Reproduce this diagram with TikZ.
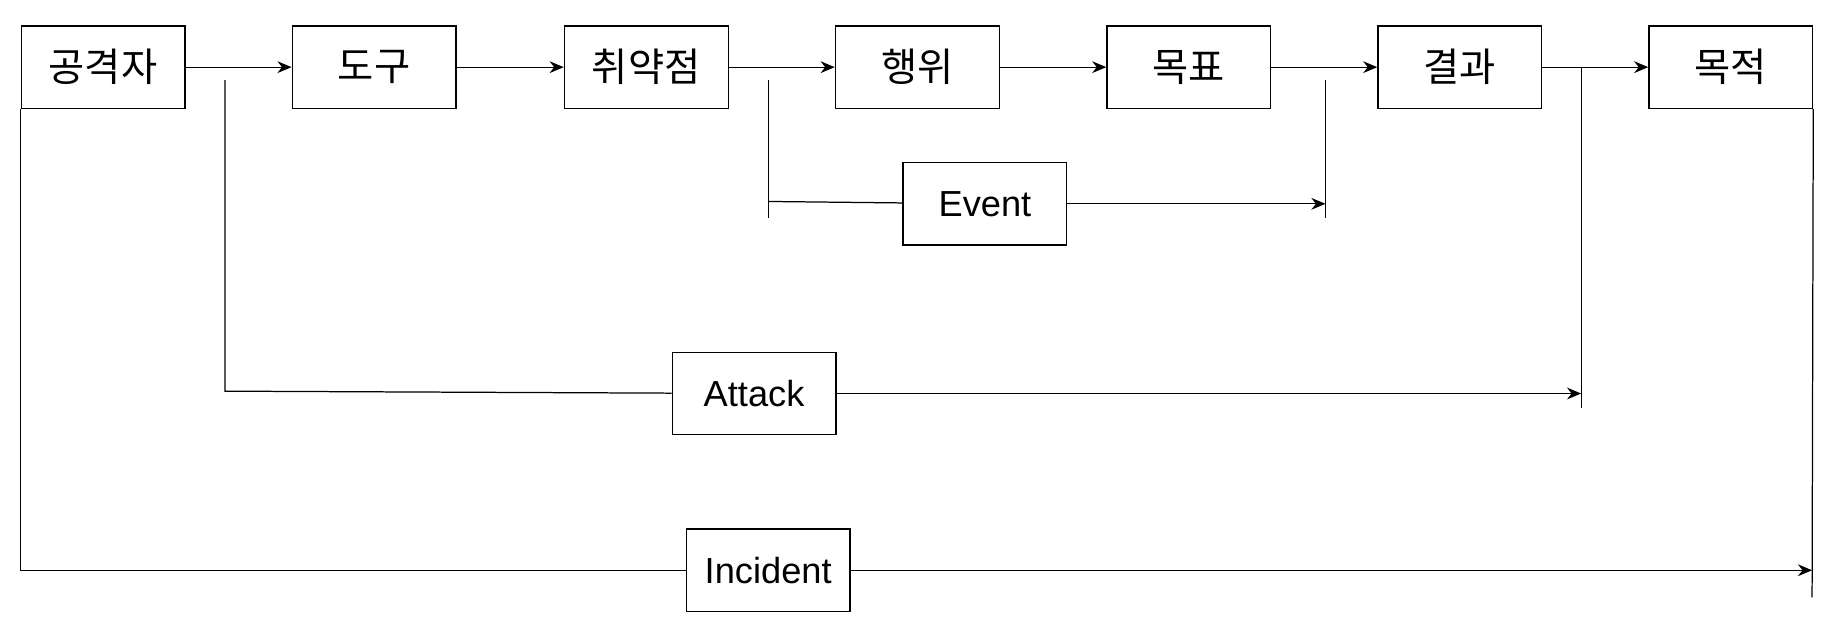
\documentclass[tikz,border=0pt]{standalone}
\usepackage{fontspec}
\setmainfont{Liberation Sans}
\newfontfamily\kr{Noto Sans CJK KR}
\usetikzlibrary{arrows.meta}

\begin{document}
\begin{tikzpicture}[x=0.2mm,y=-0.2mm,line width=0.6pt,
  box/.style={shape=rectangle,minimum width=2.78cm,minimum height=1.4cm,draw,font=\fontsize{17.5}{21}\selectfont},
  krbox/.style={box,font=\fontsize{19}{23}\selectfont\kr},
  >={Stealth[length=2.4mm,width=2mm]}]
\useasboundingbox (0,0) rectangle (1560,532);
% top row
\path (87.5,57) node (attacker) [krbox] {공격자};
\path (317.5,57) node (tool) [krbox] {도구};
\path (548.5,57) node (vuln) [krbox] {취약점};
\path (778.5,57) node (action) [krbox] {행위};
\path (1009,57) node (target) [krbox] {목표};
\path (1239,57) node (result) [krbox] {결과};
\path (1469,57) node (objective) [krbox] {목적};
% spans
\path (836,173) node (event) [box] {Event};
\path (640,334) node (attack) [box] {Attack};
\path (652,484) node (incident) [box] {Incident};

\coordinate (evtop) at (652,68);
\coordinate (evbot) at (652,185);
\coordinate (evstart) at (652,171);
\coordinate (evend) at (1125,173);
\coordinate (evendtop) at (1125,68);
\coordinate (evendbot) at (1125,185);
\coordinate (attop) at (191,68);
\coordinate (atstart) at (191,332);
\coordinate (atend) at (1342,334);
\coordinate (atendtop) at (1342,57);
\coordinate (atendbot) at (1342,346);
\coordinate (inend) at (1538,484);
\coordinate (inendbot) at (1538,507);

\draw [->] (attacker) to (tool);
\draw [->] (tool) to (vuln);
\draw [->] (vuln) to (action);
\draw [->] (action) to (target);
\draw [->] (target) to (result);
\draw [->] (result) to (objective);

\draw (evtop) -- (evbot);
\draw (evstart) -- (event);
\draw [->] (event) -- (evend);
\draw (evendtop) -- (evendbot);

\draw (attop) -- (atstart) -- (attack);
\draw [->] (attack) -- (atend);
\draw (atendtop) -- (atendbot);

\draw (attacker.south west) |- (incident);
\draw [->] (incident) -- (inend);
\draw (objective.south east) -- (inendbot);
\end{tikzpicture}
\end{document}
